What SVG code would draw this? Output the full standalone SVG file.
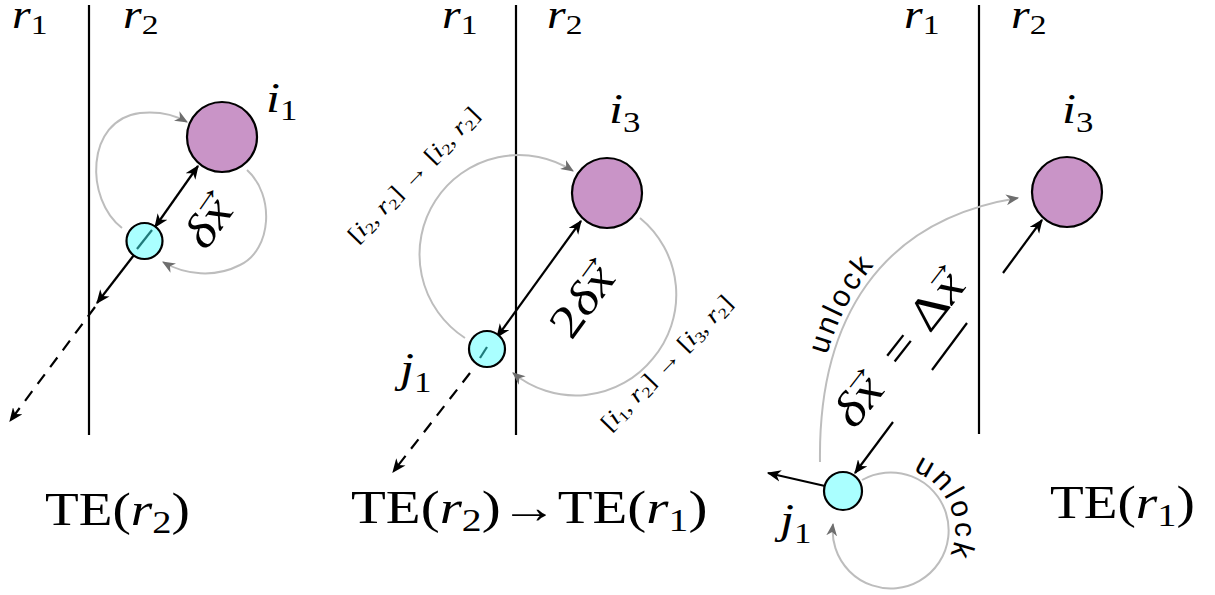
<svg xmlns="http://www.w3.org/2000/svg" width="1215" height="595" viewBox="0 0 1215 595">
<style>
.m{font-family:"Liberation Serif","DejaVu Serif",serif;font-size:42px;fill:#000}
.r{font-size:40px}
.e1{font-size:46px}
.e3{font-size:47px}
.it{font-style:italic}
.te{font-family:"Liberation Serif","DejaVu Serif",serif;font-size:46px;fill:#000}
.s{font-family:"Liberation Sans","DejaVu Sans",sans-serif;font-size:30px;fill:#000;letter-spacing:3px}
.lab{font-family:"Liberation Serif","DejaVu Serif",serif;font-size:23px;fill:#000}
.wall{stroke:#000;stroke-width:2.2;fill:none}
.big{fill:#c994c7;stroke:#000;stroke-width:2.2}
.small{fill:#aaffff;stroke:#000;stroke-width:2.2}
.blk{stroke:#000;stroke-width:2.2;fill:none;marker-end:url(#ah)}
.dbl{stroke:#000;stroke-width:2.2;fill:none;marker-end:url(#ah);marker-start:url(#ah)}
.dash{stroke:#000;stroke-width:2.2;fill:none;stroke-dasharray:12 9;marker-end:url(#ah)}
.gr{stroke:#bdbdbd;stroke-width:2;fill:none;marker-end:url(#gh)}
.teal{stroke:#1f7a7a;stroke-width:2.2}
</style>
<defs>
<marker id="ah" viewBox="0 0 12 10" refX="11" refY="5" markerWidth="14" markerHeight="12" markerUnits="userSpaceOnUse" orient="auto-start-reverse">
<path d="M0,0 L12,5 L0,10 L3.5,5 Z" fill="#000"/>
</marker>
<marker id="gh" viewBox="0 0 12 10" refX="11" refY="5" markerWidth="13" markerHeight="11" markerUnits="userSpaceOnUse" orient="auto">
<path d="M0,0 L12,5 L0,10 L3.5,5 Z" fill="#6e6e6e"/>
</marker>
<path id="tp1" d="M814,462 C 812,318 876,213 1018,192"/>
<path id="tp2" d="M913,471 A64,64 0 0 1 913,591"/>
</defs>

<!-- region walls -->
<g id="walls">
<line class="wall" x1="89" y1="5" x2="89" y2="435"/>
<line class="wall" x1="516" y1="5" x2="516" y2="435"/>
<line class="wall" x1="979" y1="5" x2="979" y2="434"/>
</g>

<!-- region labels -->
<g id="region-labels">
<text class="m r" transform="translate(12,28) scale(1.2,1)"><tspan class="it">r</tspan><tspan font-size="28" dy="6">1</tspan></text>
<text class="m r" transform="translate(123,28) scale(1.2,1)"><tspan class="it">r</tspan><tspan font-size="28" dy="6">2</tspan></text>
<text class="m r" transform="translate(442,28) scale(1.2,1)"><tspan class="it">r</tspan><tspan font-size="28" dy="6">1</tspan></text>
<text class="m r" transform="translate(547,28) scale(1.2,1)"><tspan class="it">r</tspan><tspan font-size="28" dy="6">2</tspan></text>
<text class="m r" transform="translate(904,28) scale(1.2,1)"><tspan class="it">r</tspan><tspan font-size="28" dy="6">1</tspan></text>
<text class="m r" transform="translate(1011,28) scale(1.2,1)"><tspan class="it">r</tspan><tspan font-size="28" dy="6">2</tspan></text>
</g>

<!-- connectors -->
<g id="connectors">
<!-- panel 1 -->
<path class="gr" d="M122,228 C 85,200 85,120 140,113 C 160,111 175,115 187,122"/>
<path class="gr" d="M247,170 C 275,195 272,250 240,265 C 215,278 185,275 163,262"/>
<line class="dbl" x1="155" y1="227" x2="198" y2="166"/>
<line class="blk" x1="134" y1="255" x2="97" y2="303"/>
<line class="dash" x1="95" y1="307" x2="10" y2="421"/>
<!-- panel 2 -->
<path class="gr" d="M465,338 A99,99 0 1 1 573,171"/>
<path class="gr" d="M640,218 A99,99 0 0 1 652.8,358.6 A99,99 0 0 1 513,373"/>
<line class="dbl" x1="497" y1="337" x2="581" y2="221"/>
<line class="dash" x1="470" y1="373" x2="393" y2="472"/>
<!-- panel 3 -->
<path class="gr" d="M820,462 C 818,320 880,220 1018,198"/>
<path class="gr" d="M862,480 A58,58 0 1 1 833,524"/>
<line class="blk" x1="1003" y1="273" x2="1042" y2="220"/>
<line class="blk" x1="893" y1="422" x2="855" y2="473"/>
<line class="blk" x1="825" y1="486" x2="768" y2="473"/>
<line class="wall" x1="932" y1="370" x2="967" y2="323"/>
</g>

<!-- nodes -->
<g id="node-i1">
<circle class="big" cx="222" cy="137" r="35"/>
<text class="m" transform="translate(266,112) scale(1.2,1)"><tspan class="it">i</tspan><tspan font-size="29" dy="8">1</tspan></text>
</g>
<g id="node-c1">
<circle class="small" cx="144.5" cy="241" r="18"/>
<line class="teal" x1="152" y1="230" x2="137" y2="249"/>
</g>
<g id="node-i3a">
<circle class="big" cx="607" cy="193" r="35"/>
<text class="m" transform="translate(609,123) scale(1.2,1)"><tspan class="it">i</tspan><tspan font-size="29" dy="9">3</tspan></text>
</g>
<g id="node-j1a">
<circle class="small" cx="487" cy="349" r="18"/>
<line class="teal" x1="487" y1="347" x2="480" y2="358"/>
<text class="m" transform="translate(400,382) scale(1.2,1)"><tspan class="it">j</tspan><tspan font-size="29" dy="10">1</tspan></text>
</g>
<g id="node-i3b">
<circle class="big" cx="1067" cy="192" r="35"/>
<text class="m" transform="translate(1062,123) scale(1.2,1)"><tspan class="it">i</tspan><tspan font-size="29" dy="9">3</tspan></text>
</g>
<g id="node-j1b">
<circle class="small" cx="843" cy="491" r="19"/>
<text class="m" transform="translate(780,533) scale(1.2,1)"><tspan class="it">j</tspan><tspan font-size="29" dy="10">1</tspan></text>
</g>

<!-- edge labels -->
<g id="edge-labels">
<text class="m e1" transform="translate(209,223) rotate(-55) scale(1.2,1)" x="-21" y="14"><tspan class="it">δx</tspan><tspan font-size="32" dx="-22" dy="-24">→</tspan></text>
<text class="m e1" transform="translate(582,303) rotate(-54) scale(1.2,1)" x="-31" y="14">2<tspan class="it">δx</tspan><tspan font-size="32" dx="-22" dy="-24">→</tspan></text>
<text class="m e3" transform="translate(893,357) rotate(-52) scale(1.2,1)" x="-68" y="15"><tspan class="it">δx</tspan><tspan font-size="32" dx="-23" dy="-25">→</tspan><tspan dy="25"> = Δ</tspan><tspan class="it">x</tspan><tspan font-size="32" dx="-23" dy="-25">→</tspan></text>
<text class="lab" transform="translate(419,180) rotate(-46) scale(1.2,1)" text-anchor="middle">[<tspan font-style="italic">i</tspan><tspan font-size="15" dy="4">2</tspan><tspan dy="-4">, </tspan><tspan font-style="italic">r</tspan><tspan font-size="15" dy="4">2</tspan><tspan dy="-4">] → [</tspan><tspan font-style="italic">i</tspan><tspan font-size="15" dy="4">2</tspan><tspan dy="-4">, </tspan><tspan font-style="italic">r</tspan><tspan font-size="15" dy="4">2</tspan><tspan dy="-4">]</tspan></text>
<text class="lab" transform="translate(672,368) rotate(-46) scale(1.2,1)" text-anchor="middle">[<tspan font-style="italic">i</tspan><tspan font-size="15" dy="4">1</tspan><tspan dy="-4">, </tspan><tspan font-style="italic">r</tspan><tspan font-size="15" dy="4">2</tspan><tspan dy="-4">] → [</tspan><tspan font-style="italic">i</tspan><tspan font-size="15" dy="4">3</tspan><tspan dy="-4">, </tspan><tspan font-style="italic">r</tspan><tspan font-size="15" dy="4">2</tspan><tspan dy="-4">]</tspan></text>
<text class="s"><textPath href="#tp1" startOffset="108">unlock</textPath></text>
<text class="s"><textPath href="#tp2" startOffset="0">unlock</textPath></text>
</g>

<!-- state labels -->
<g id="state-labels">
<text class="te" transform="translate(45,525) scale(1.2,1)">TE(<tspan class="it">r</tspan><tspan font-size="32" dy="8">2</tspan><tspan dy="-8">)</tspan></text>
<text class="te" transform="translate(351,523) scale(1.24,1)">TE(<tspan class="it">r</tspan><tspan font-size="32" dy="8">2</tspan><tspan dy="-8">)→TE(</tspan><tspan class="it">r</tspan><tspan font-size="32" dy="8">1</tspan><tspan dy="-8">)</tspan></text>
<text class="te" transform="translate(1050,518) scale(1.2,1)">TE(<tspan class="it">r</tspan><tspan font-size="32" dy="8">1</tspan><tspan dy="-8">)</tspan></text>
</g>
</svg>
